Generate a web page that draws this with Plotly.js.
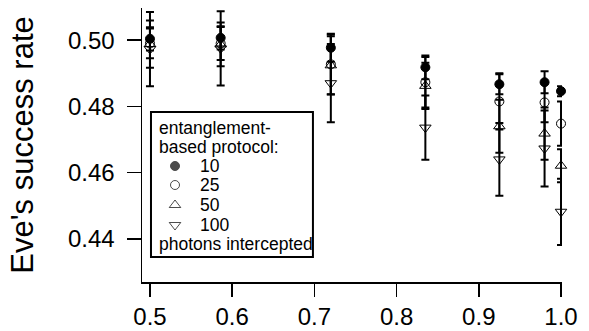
<!DOCTYPE html>
<html><head><meta charset="utf-8">
<script src="https://cdn.plot.ly/plotly-3.0.1.min.js"></script>
<style>html,body{margin:0;padding:0;background:#fff}#chart{width:589px;height:331px}</style>
</head><body><div id="chart"></div>
<script>
const xValues = [0.5, 0.586, 0.72, 0.835, 0.925, 0.98, 1.0];
const seriesNames = ['10', '25', '50', '100'];
const rate10 = [0.5004, 0.5007, 0.4977, 0.4918, 0.4867, 0.4873, 0.4846];
const err10 = [0.0035, 0.0035, 0.0042, 0.0036, 0.0030, 0.0033, 0.0015];
const rate25 = [0.4990, 0.4990, 0.4927, 0.4873, 0.4815, 0.4812, 0.4748];
const err25 = [0.0045, 0.0050, 0.0090, 0.0076, 0.0085, 0.0060, 0.0067];
const rate50 = [0.4988, 0.4987, 0.4924, 0.4862, 0.4740, 0.4718, 0.4621];
const err50 = [0.0071, 0.0066, 0.0088, 0.0070, 0.0080, 0.0079, 0.0050];
const rate100 = [0.4973, 0.4975, 0.4870, 0.4736, 0.4640, 0.4673, 0.4482];
const err100 = [0.0112, 0.0112, 0.0118, 0.0097, 0.0110, 0.0115, 0.0100];
const yTicks = [0.44, 0.46, 0.48, 0.50];
const xTicks = [0.5, 0.6, 0.7, 0.8, 0.9, 1.0];
const legendTitleLines = ['entanglement-', 'based protocol:'];
const legendFooter = 'photons intercepted';

const rates = [rate10, rate25, rate50, rate100];
const errs = [err10, err25, err50, err100];
const symbols = ['circle', 'circle-open', 'triangle-up-open', 'triangle-down-open'];
const sizes = [9, 9, 10, 10];

const font = 'Liberation Sans, Arial, Helvetica, sans-serif';
const traces = [];
for (let i = 3; i >= 0; i--) {
  traces.push({
    type: 'scatter', mode: 'markers', name: seriesNames[i], showlegend: false,
    x: xValues, y: rates[i], cliponaxis: false,
    marker: {symbol: symbols[i], size: sizes[i], color: 'black', line: {color: 'black', width: 1}},
    error_y: {type: 'data', array: errs[i], visible: true, color: 'black', thickness: 2, width: 4}
  });
}

// Hand-built legend box (layout positions in paper fractions)
const legRowY = [0.4234, 0.3540, 0.2810, 0.2080];
const legKeyX = 0.0786, legTextX = 0.1333, legLeftX = 0.0357;
traces.push({
  type: 'scatter', mode: 'markers', xaxis: 'x2', yaxis: 'y2', showlegend: false, cliponaxis: false,
  x: seriesNames.map(() => legKeyX), y: legRowY, hoverinfo: 'skip',
  marker: {symbol: symbols, size: [9, 9, 10, 10], color: 'black', line: {color: 'black', width: 1}}
});

const annFont = {size: 17.5, family: font, color: 'black'};
const annotations = [];
const titleRowY = [0.5620, 0.4927];
legendTitleLines.forEach((t, k) => annotations.push({xref: 'paper', yref: 'paper', x: legLeftX, y: titleRowY[k], xanchor: 'left', yanchor: 'middle', showarrow: false, text: t, font: annFont}));
seriesNames.forEach((t, k) => annotations.push({xref: 'paper', yref: 'paper', x: legTextX, y: legRowY[k], xanchor: 'left', yanchor: 'middle', showarrow: false, text: t, font: annFont}));
annotations.push({xref: 'paper', yref: 'paper', x: legLeftX, y: 0.1387, xanchor: 'left', yanchor: 'middle', showarrow: false, text: legendFooter, font: annFont});

const layout = {
  width: 589, height: 331,
  margin: {l: 142, r: 27, t: 8, b: 49},
  paper_bgcolor: '#fff', plot_bgcolor: '#fff',
  font: {family: font, color: 'black'},
  showlegend: false,
  xaxis: {
    range: [0.4903, 1.0012], tickvals: xTicks, tickformat: '.1f',
    showline: true, linecolor: 'black', linewidth: 1.5,
    ticks: 'outside', ticklen: 13, tickwidth: 1.5, tickcolor: 'black',
    showgrid: false, zeroline: false,
    tickfont: {size: 24, family: font}
  },
  yaxis: {
    range: [0.4270, 0.5097], tickvals: yTicks, tickformat: '.2f',
    showline: true, linecolor: 'black', linewidth: 1.5,
    ticks: 'outside', ticklen: 14, tickwidth: 1.5, tickcolor: 'black',
    showgrid: false, zeroline: false, ticklabelstandoff: 7,
    tickfont: {size: 24, family: font},
    title: {text: "Eve's success rate", font: {size: 31, family: font}, standoff: 25}
  },
  xaxis2: {overlaying: 'x', anchor: 'y2', range: [0, 1], visible: false, fixedrange: true},
  yaxis2: {overlaying: 'y', anchor: 'x2', range: [0, 1], visible: false, fixedrange: true},
  shapes: [{
    type: 'rect', xref: 'paper', yref: 'paper',
    x0: 0.0214, x1: 0.407, y0: 0.0912, y1: 0.620,
    line: {color: 'black', width: 2}
  }],
  annotations: annotations
};
Plotly.newPlot('chart', traces, layout, {displayModeBar: false, staticPlot: true});
</script>
</body></html>
